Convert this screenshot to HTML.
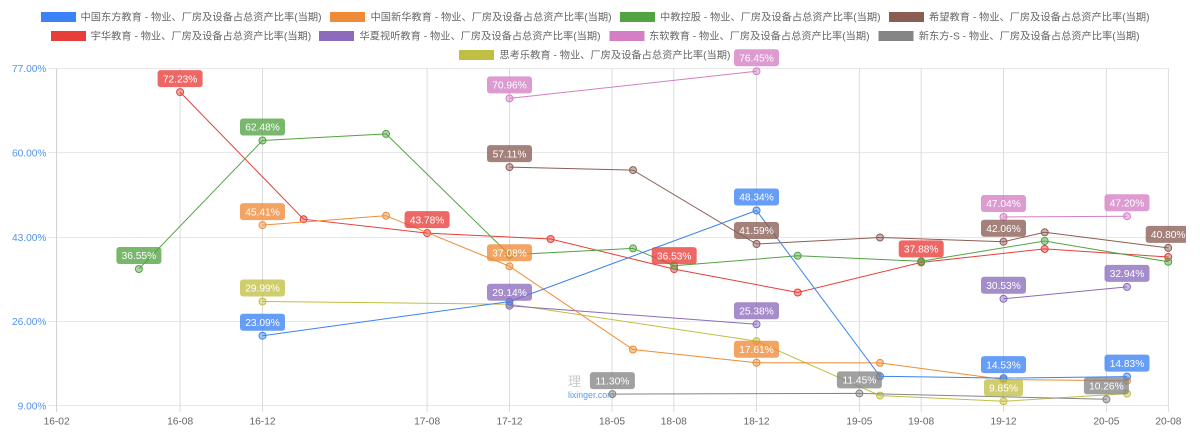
<!DOCTYPE html>
<html><head><meta charset="utf-8">
<style>
html,body{margin:0;padding:0;background:#fff;}
svg{display:block;}
.lg{font-family:"Liberation Sans","Noto Sans CJK SC",sans-serif;font-size:10.2px;fill:#666;}
.yt{font-family:"Liberation Sans",sans-serif;font-size:10.2px;fill:#4f94ef;text-anchor:end;}
.xt{font-family:"Liberation Sans",sans-serif;font-size:10.2px;fill:#666;text-anchor:middle;}
.dl{font-family:"Liberation Sans",sans-serif;font-size:10.2px;fill:#fff;text-anchor:middle;}
.ln{fill:none;stroke-width:1;}
</style></head>
<body>
<svg width="1200" height="438" viewBox="0 0 1200 438" xmlns="http://www.w3.org/2000/svg">
<defs><clipPath id="cl"><rect x="0" y="0" width="1186" height="438"/></clipPath></defs>
<rect width="1200" height="438" fill="#fff"/>

<!-- legend -->
<rect x="41" y="12" width="35" height="10" fill="#3a82f5"/>
<text class="lg" x="80.5" y="20.6" textLength="241" lengthAdjust="spacingAndGlyphs">中国东方教育 - 物业、厂房及设备占总资产比率(当期)</text>
<rect x="330" y="12" width="35" height="10" fill="#ef8b36"/>
<text class="lg" x="370.5" y="20.6" textLength="241" lengthAdjust="spacingAndGlyphs">中国新华教育 - 物业、厂房及设备占总资产比率(当期)</text>
<rect x="620" y="12" width="35" height="10" fill="#52a342"/>
<text class="lg" x="660" y="20.6" textLength="220.5" lengthAdjust="spacingAndGlyphs">中教控股 - 物业、厂房及设备占总资产比率(当期)</text>
<rect x="889" y="12" width="35" height="10" fill="#8b5e54"/>
<text class="lg" x="929" y="20.6" textLength="220.5" lengthAdjust="spacingAndGlyphs">希望教育 - 物业、厂房及设备占总资产比率(当期)</text>

<rect x="51" y="31" width="35" height="10" fill="#e83e39"/>
<text class="lg" x="90.7" y="39.6" textLength="220.5" lengthAdjust="spacingAndGlyphs">宇华教育 - 物业、厂房及设备占总资产比率(当期)</text>
<rect x="319" y="31" width="35" height="10" fill="#8c6bbd"/>
<text class="lg" x="359.5" y="39.6" textLength="241" lengthAdjust="spacingAndGlyphs">华夏视听教育 - 物业、厂房及设备占总资产比率(当期)</text>
<rect x="609.5" y="31" width="35" height="10" fill="#d47fc5"/>
<text class="lg" x="649" y="39.6" textLength="220.5" lengthAdjust="spacingAndGlyphs">东软教育 - 物业、厂房及设备占总资产比率(当期)</text>
<rect x="878.5" y="31" width="35" height="10" fill="#858585"/>
<text class="lg" x="918.8" y="39.6" textLength="220.8" lengthAdjust="spacingAndGlyphs">新东方-S - 物业、厂房及设备占总资产比率(当期)</text>

<rect x="459" y="50" width="35" height="10" fill="#c1bf43"/>
<text class="lg" x="499.4" y="58.6" textLength="231" lengthAdjust="spacingAndGlyphs">思考乐教育 - 物业、厂房及设备占总资产比率(当期)</text>

<!-- horizontal grid -->
<g stroke="#e8e8e8" stroke-width="1">
<line x1="48" y1="68.5" x2="1168.6" y2="68.5"/>
<line x1="48" y1="152.5" x2="1168.6" y2="152.5"/>
<line x1="48" y1="237.5" x2="1168.6" y2="237.5"/>
<line x1="48" y1="321.5" x2="1168.6" y2="321.5"/>
<line x1="48" y1="405.5" x2="1168.6" y2="405.5"/>
</g>
<!-- vertical grid -->
<g stroke="#dcdcdc" stroke-width="1">
<line x1="56.6" y1="68.5" x2="56.6" y2="412" stroke="#cfcfcf"/>
<line x1="180.1" y1="68.5" x2="180.1" y2="412"/>
<line x1="262.5" y1="68.5" x2="262.5" y2="412"/>
<line x1="427.1" y1="68.5" x2="427.1" y2="412"/>
<line x1="509.5" y1="68.5" x2="509.5" y2="412"/>
<line x1="612" y1="68.5" x2="612" y2="412"/>
<line x1="673.8" y1="68.5" x2="673.8" y2="412"/>
<line x1="756.5" y1="68.5" x2="756.5" y2="412"/>
<line x1="859.4" y1="68.5" x2="859.4" y2="412"/>
<line x1="921.2" y1="68.5" x2="921.2" y2="412"/>
<line x1="1003.5" y1="68.5" x2="1003.5" y2="412"/>
<line x1="1106.4" y1="68.5" x2="1106.4" y2="412"/>
<line x1="1168.4" y1="68.5" x2="1168.4" y2="412"/>
</g>

<!-- y ticks -->
<text class="yt" x="46.5" y="72.2">77.00%</text>
<text class="yt" x="46.5" y="156.4">60.00%</text>
<text class="yt" x="46.5" y="240.9">43.00%</text>
<text class="yt" x="46.5" y="325.1">26.00%</text>
<text class="yt" x="46.5" y="409.3">9.00%</text>

<!-- x ticks -->
<text class="xt" x="56.6" y="424.5">16-02</text>
<text class="xt" x="180.1" y="424.5">16-08</text>
<text class="xt" x="262.5" y="424.5">16-12</text>
<text class="xt" x="427.1" y="424.5">17-08</text>
<text class="xt" x="509.5" y="424.5">17-12</text>
<text class="xt" x="612" y="424.5">18-05</text>
<text class="xt" x="673.8" y="424.5">18-08</text>
<text class="xt" x="756.5" y="424.5">18-12</text>
<text class="xt" x="859.4" y="424.5">19-05</text>
<text class="xt" x="921.2" y="424.5">19-08</text>
<text class="xt" x="1003.5" y="424.5">19-12</text>
<text class="xt" x="1106.4" y="424.5">20-05</text>
<text class="xt" x="1168.4" y="424.5">20-08</text>

<!-- watermark -->
<text x="568" y="386" font-family="'Noto Sans CJK SC',sans-serif" font-size="13" fill="#c9c9c9">理</text>
<text x="568" y="398" font-family="'Liberation Sans',sans-serif" font-size="8.8" fill="#5b9be8">lixinger.com</text>

<!-- series (reverse order, first dataset on top) -->
<g>
<polyline class="ln" stroke="#c1bf43" points="262.5,301.5 509.5,304.2 756.5,341.1 880.0,395.6 1003.5,401.3 1127.0,393.6"/>
<g fill="#c1bf43" fill-opacity="0.45" stroke="#c1bf43" stroke-width="1">
<circle cx="262.5" cy="301.5" r="3.5"/><circle cx="509.5" cy="304.2" r="3.5"/><circle cx="756.5" cy="341.1" r="3.5"/><circle cx="880.0" cy="395.6" r="3.5"/><circle cx="1003.5" cy="401.3" r="3.5"/><circle cx="1127.0" cy="393.6" r="3.5"/>
</g>
</g>
<g>
<polyline class="ln" stroke="#858585" points="612.4,394.1 859.4,393.4 1106.4,399.3"/>
<g fill="#858585" fill-opacity="0.45" stroke="#858585" stroke-width="1">
<circle cx="612.4" cy="394.1" r="3.5"/><circle cx="859.4" cy="393.4" r="3.5"/><circle cx="1106.4" cy="399.3" r="3.5"/>
</g>
</g>
<g>
<polyline class="ln" stroke="#d47fc5" points="509.5,98.4 756.5,71.2"/>
<polyline class="ln" stroke="#d47fc5" points="1003.5,217.0 1127.0,216.2"/>
<g fill="#d47fc5" fill-opacity="0.45" stroke="#d47fc5" stroke-width="1">
<circle cx="509.5" cy="98.4" r="3.5"/><circle cx="756.5" cy="71.2" r="3.5"/><circle cx="1003.5" cy="217.0" r="3.5"/><circle cx="1127.0" cy="216.2" r="3.5"/>
</g>
</g>
<g>
<polyline class="ln" stroke="#8c6bbd" points="509.5,305.7 756.5,324.3"/>
<polyline class="ln" stroke="#8c6bbd" points="1003.5,298.8 1127.0,286.9"/>
<g fill="#8c6bbd" fill-opacity="0.45" stroke="#8c6bbd" stroke-width="1">
<circle cx="509.5" cy="305.7" r="3.5"/><circle cx="756.5" cy="324.3" r="3.5"/><circle cx="1003.5" cy="298.8" r="3.5"/><circle cx="1127.0" cy="286.9" r="3.5"/>
</g>
</g>
<g>
<polyline class="ln" stroke="#e83e39" points="180.1,92.1 303.6,219.2 427.1,233.1 550.6,239.0 674.2,269.1 797.7,292.5 921.2,262.4 1044.7,248.9 1168.2,257.0"/>
<g fill="#e83e39" fill-opacity="0.45" stroke="#e83e39" stroke-width="1">
<circle cx="180.1" cy="92.1" r="3.5"/><circle cx="303.6" cy="219.2" r="3.5"/><circle cx="427.1" cy="233.1" r="3.5"/><circle cx="550.6" cy="239.0" r="3.5"/><circle cx="674.2" cy="269.1" r="3.5"/><circle cx="797.7" cy="292.5" r="3.5"/><circle cx="921.2" cy="262.4" r="3.5"/><circle cx="1044.7" cy="248.9" r="3.5"/><circle cx="1168.2" cy="257.0" r="3.5"/>
</g>
</g>
<g>
<polyline class="ln" stroke="#8b5e54" points="509.5,167.1 633.0,170.1 756.5,244.0 880.0,237.5 1003.5,241.7 1044.7,232.3 1168.2,247.9"/>
<g fill="#8b5e54" fill-opacity="0.45" stroke="#8b5e54" stroke-width="1">
<circle cx="509.5" cy="167.1" r="3.5"/><circle cx="633.0" cy="170.1" r="3.5"/><circle cx="756.5" cy="244.0" r="3.5"/><circle cx="880.0" cy="237.5" r="3.5"/><circle cx="1003.5" cy="241.7" r="3.5"/><circle cx="1044.7" cy="232.3" r="3.5"/><circle cx="1168.2" cy="247.9" r="3.5"/>
</g>
</g>
<g>
<polyline class="ln" stroke="#52a342" points="138.9,269.0 262.5,140.5 386.0,133.9 509.5,254.8 633.0,248.4 674.2,265.7 797.7,255.8 921.2,261.3 1044.7,241.0 1168.2,261.8"/>
<g fill="#52a342" fill-opacity="0.45" stroke="#52a342" stroke-width="1">
<circle cx="138.9" cy="269.0" r="3.5"/><circle cx="262.5" cy="140.5" r="3.5"/><circle cx="386.0" cy="133.9" r="3.5"/><circle cx="509.5" cy="254.8" r="3.5"/><circle cx="633.0" cy="248.4" r="3.5"/><circle cx="674.2" cy="265.7" r="3.5"/><circle cx="797.7" cy="255.8" r="3.5"/><circle cx="921.2" cy="261.3" r="3.5"/><circle cx="1044.7" cy="241.0" r="3.5"/><circle cx="1168.2" cy="261.8" r="3.5"/>
</g>
</g>
<g>
<polyline class="ln" stroke="#ef8b36" points="262.5,225.1 386.0,215.7 509.5,266.3 633.0,349.5 756.5,362.8 880.0,362.9 1003.5,379.5 1127.0,380.7"/>
<g fill="#ef8b36" fill-opacity="0.45" stroke="#ef8b36" stroke-width="1">
<circle cx="262.5" cy="225.1" r="3.5"/><circle cx="386.0" cy="215.7" r="3.5"/><circle cx="509.5" cy="266.3" r="3.5"/><circle cx="633.0" cy="349.5" r="3.5"/><circle cx="756.5" cy="362.8" r="3.5"/><circle cx="880.0" cy="362.9" r="3.5"/><circle cx="1003.5" cy="379.5" r="3.5"/><circle cx="1127.0" cy="380.7" r="3.5"/>
</g>
</g>
<g>
<polyline class="ln" stroke="#3a82f5" points="262.5,335.7 509.5,301.6 756.5,210.5 880.0,376.3 1003.5,378.1 1127.0,376.6"/>
<g fill="#3a82f5" fill-opacity="0.45" stroke="#3a82f5" stroke-width="1">
<circle cx="262.5" cy="335.7" r="3.5"/><circle cx="509.5" cy="301.6" r="3.5"/><circle cx="756.5" cy="210.5" r="3.5"/><circle cx="880.0" cy="376.3" r="3.5"/><circle cx="1003.5" cy="378.1" r="3.5"/><circle cx="1127.0" cy="376.6" r="3.5"/>
</g>
</g>

<!-- data labels -->
<g clip-path="url(#cl)">
<!-- blue -->
<g fill="#3a82f5" fill-opacity="0.78">
<rect x="240" y="313.7" width="45" height="17" rx="3"/>
<rect x="734" y="188.5" width="45" height="17" rx="3"/>
<rect x="981" y="356.1" width="45" height="17" rx="3"/>
<rect x="1104.5" y="354.6" width="45" height="17" rx="3"/>
</g>
<text class="dl" x="262.5" y="325.9">23.09%</text>
<text class="dl" x="756.5" y="200.7">48.34%</text>
<text class="dl" x="1003.5" y="368.3">14.53%</text>
<text class="dl" x="1127" y="366.8">14.83%</text>
<!-- orange -->
<g fill="#ef8b36" fill-opacity="0.78">
<rect x="240" y="203.1" width="45" height="17" rx="3"/>
<rect x="487" y="244.3" width="45" height="17" rx="3"/>
<rect x="734" y="340.8" width="45" height="17" rx="3"/>
</g>
<text class="dl" x="262.5" y="215.3">45.41%</text>
<text class="dl" x="509.5" y="256.5">37.08%</text>
<text class="dl" x="756.5" y="353">17.61%</text>
<!-- green -->
<g fill="#52a342" fill-opacity="0.78">
<rect x="116.4" y="247" width="45" height="17" rx="3"/>
<rect x="240" y="118.5" width="45" height="17" rx="3"/>
</g>
<text class="dl" x="138.9" y="259.2">36.55%</text>
<text class="dl" x="262.5" y="130.7">62.48%</text>
<!-- brown -->
<g fill="#8b5e54" fill-opacity="0.78">
<rect x="487" y="145.1" width="45" height="17" rx="3"/>
<rect x="734" y="222" width="45" height="17" rx="3"/>
<rect x="981" y="219.7" width="45" height="17" rx="3"/>
<rect x="1145.7" y="225.9" width="45" height="17" rx="3"/>
</g>
<text class="dl" x="509.5" y="157.3">57.11%</text>
<text class="dl" x="756.5" y="234.2">41.59%</text>
<text class="dl" x="1003.5" y="231.9">42.06%</text>
<text class="dl" x="1168.2" y="238.1">40.80%</text>
<!-- red -->
<g fill="#e83e39" fill-opacity="0.78">
<rect x="157.6" y="70.1" width="45" height="17" rx="3"/>
<rect x="404.6" y="211.1" width="45" height="17" rx="3"/>
<rect x="651.7" y="247.1" width="45" height="17" rx="3"/>
<rect x="898.7" y="240.4" width="45" height="17" rx="3"/>
</g>
<text class="dl" x="180.1" y="82.3">72.23%</text>
<text class="dl" x="427.1" y="223.3">43.78%</text>
<text class="dl" x="674.2" y="259.3">36.53%</text>
<text class="dl" x="921.2" y="252.6">37.88%</text>
<!-- purple -->
<g fill="#8c6bbd" fill-opacity="0.78">
<rect x="487" y="283.7" width="45" height="17" rx="3"/>
<rect x="734" y="302.3" width="45" height="17" rx="3"/>
<rect x="981" y="276.8" width="45" height="17" rx="3"/>
<rect x="1104.5" y="264.9" width="45" height="17" rx="3"/>
</g>
<text class="dl" x="509.5" y="295.9">29.14%</text>
<text class="dl" x="756.5" y="314.5">25.38%</text>
<text class="dl" x="1003.5" y="289">30.53%</text>
<text class="dl" x="1127" y="277.1">32.94%</text>
<!-- pink -->
<g fill="#d47fc5" fill-opacity="0.78">
<rect x="487" y="76.4" width="45" height="17" rx="3"/>
<rect x="734" y="49.2" width="45" height="17" rx="3"/>
<rect x="981" y="195" width="45" height="17" rx="3"/>
<rect x="1104.5" y="194.2" width="45" height="17" rx="3"/>
</g>
<text class="dl" x="509.5" y="88.6">70.96%</text>
<text class="dl" x="756.5" y="61.4">76.45%</text>
<text class="dl" x="1003.5" y="207.2">47.04%</text>
<text class="dl" x="1127" y="206.4">47.20%</text>
<!-- gray -->
<g fill="#858585" fill-opacity="0.78">
<rect x="589.9" y="372.1" width="45" height="17" rx="3"/>
<rect x="836.9" y="371.4" width="45" height="17" rx="3"/>
<rect x="1083.9" y="377.3" width="45" height="17" rx="3"/>
</g>
<text class="dl" x="612.4" y="384.3">11.30%</text>
<text class="dl" x="859.4" y="383.6">11.45%</text>
<text class="dl" x="1106.4" y="389.5">10.26%</text>
<!-- olive -->
<g fill="#c1bf43" fill-opacity="0.78">
<rect x="240" y="279.5" width="45" height="17" rx="3"/>
<rect x="984" y="379.3" width="39" height="17" rx="3"/>
</g>
<text class="dl" x="262.5" y="291.7">29.99%</text>
<text class="dl" x="1003.5" y="391.5">9.85%</text>
</g>
</svg>
</body></html>
